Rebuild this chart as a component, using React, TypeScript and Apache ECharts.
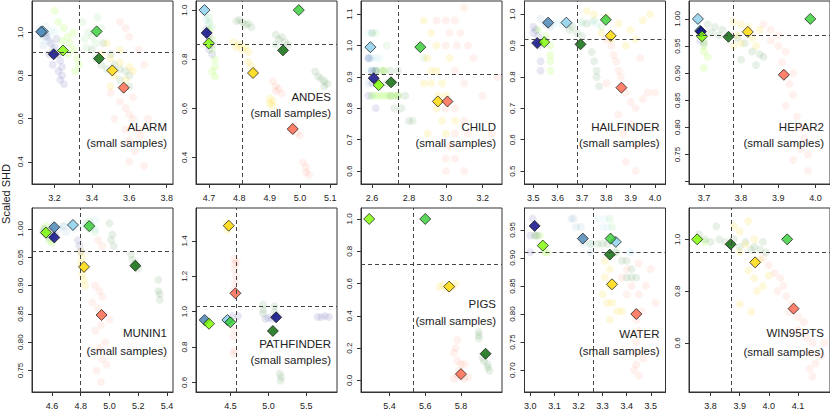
import React, { useEffect, useRef } from 'react';
import * as echarts from 'echarts';

const PANELS = ['ALARM', 'ANDES', 'CHILD', 'HAILFINDER', 'HEPAR2', 'MUNIN1', 'PATHFINDER', 'PIGS', 'WATER', 'WIN95PTS'];
const SUBTITLE = '(small samples)';
const Y_TITLE = 'Scaled SHD';

const METHOD_ORDER = ['skyblue', 'steelblue', 'navy', 'lawngreen', 'limegreen', 'darkgreen', 'gold', 'tomato'];
const METHOD_COLORS: Record<string, string> = {
  skyblue: '#87CEEB', steelblue: '#4682B4', navy: '#000080', lawngreen: '#7CFC00',
  limegreen: '#32CD32', darkgreen: '#006400', gold: '#FFD700', tomato: '#FF6347',
};

const X_RANGE = [[3.079, 3.834], [4.657, 5.122], [2.540, 3.305], [3.464, 4.043], [3.660, 4.039],
  [4.461, 5.442], [4.043, 5.907], [5.240, 6.030], [2.976, 3.561], [3.726, 4.210]];
const Y_RANGE = [[0.297, 1.146], [0.292, 1.037], [0.559, 1.142], [0.459, 1.042], [0.6957, 1.033],
  [0.712, 1.037], [0.546, 1.586], [-0.072, 1.068], [0.661, 0.989], [0.410, 1.121]];
const X_TICKS = [
  [3.2, 3.4, 3.6, 3.8], [4.7, 4.8, 4.9, 5.0, 5.1], [2.6, 2.8, 3.0, 3.2], [3.5, 3.6, 3.7, 3.8, 3.9, 4.0],
  [3.7, 3.8, 3.9, 4.0], [4.6, 4.8, 5.0, 5.2, 5.4], [4.5, 5.0, 5.5], [5.4, 5.6, 5.8],
  [3.0, 3.1, 3.2, 3.3, 3.4, 3.5], [3.8, 3.9, 4.0, 4.1]];
const Y_TICKS = [
  [0.4, 0.6, 0.8, 1.0], [0.4, 0.6, 0.8, 1.0], [0.6, 0.7, 0.8, 0.9, 1.0, 1.1], [0.5, 0.6, 0.7, 0.8, 0.9, 1.0],
  [0.70, 0.75, 0.80, 0.85, 0.90, 0.95, 1.00], [0.75, 0.80, 0.85, 0.90, 0.95, 1.00], [0.6, 0.8, 1.0, 1.2, 1.4],
  [0.0, 0.2, 0.4, 0.6, 0.8, 1.0], [0.70, 0.75, 0.80, 0.85, 0.90, 0.95], [0.6, 0.8, 1.0]];
const Y_LABELS = [
  [0.4, 0.6, 0.8, 1.0], [0.4, 0.6, 0.8, 1.0], [0.6, 0.7, 0.8, 0.9, 1.0, 1.1], [0.5, 0.6, 0.7, 0.8, 0.9, 1.0],
  [0.75, 0.80, 0.85, 0.90, 0.95, 1.00], [0.75, 0.80, 0.85, 0.90, 0.95, 1.00], [0.6, 0.8, 1.0, 1.2, 1.4],
  [0.0, 0.2, 0.4, 0.6, 0.8, 1.0], [0.70, 0.75, 0.80, 0.85, 0.90, 0.95], [0.6, 0.8, 1.0]];
const Y_DECIMALS = [1, 1, 1, 1, 2, 2, 1, 1, 2, 1];
const V_LINE = [3.331, 4.812, 2.744, 3.680, 3.780, 4.80, 4.568, 5.527, 3.261, 3.873];
const H_LINE = [0.910, 0.858, 0.909, 0.918, 0.973, 0.965, 1.032, 0.724, 0.905, 0.954];

type Mean = [string, number, number];
const alarmMeans: Mean[] = [['steelblue', 3.128, 1.003], ['skyblue', 3.136, 1.005], ['navy', 3.195, 0.899], ['lawngreen', 3.245, 0.916], ['limegreen', 3.425, 1.005], ['darkgreen', 3.438, 0.879], ['gold', 3.509, 0.824], ['tomato', 3.570, 0.744]];
const andesMeans: Mean[] = [['skyblue', 4.685, 1.0], ['navy', 4.692, 0.907], ['lawngreen', 4.699, 0.864], ['limegreen', 4.996, 1.0], ['darkgreen', 4.944, 0.836], ['gold', 4.845, 0.744], ['tomato', 4.976, 0.516]];
const childMeans: Mean[] = [['skyblue', 2.591, 0.995], ['navy', 2.609, 0.896], ['lawngreen', 2.636, 0.874], ['limegreen', 2.862, 0.995], ['darkgreen', 2.703, 0.883], ['gold', 2.957, 0.822], ['tomato', 3.009, 0.822]];
const hailfinderMeans: Mean[] = [['steelblue', 3.561, 0.973], ['skyblue', 3.636, 0.973], ['navy', 3.516, 0.908], ['lawngreen', 3.545, 0.911], ['limegreen', 3.798, 0.982], ['darkgreen', 3.694, 0.904], ['gold', 3.818, 0.931], ['tomato', 3.862, 0.766]];
const hepar2Means: Mean[] = [['skyblue', 3.684, 1.0], ['steelblue', 3.690, 0.978], ['navy', 3.692, 0.9765], ['lawngreen', 3.695, 0.968], ['limegreen', 3.986, 1.0], ['darkgreen', 3.766, 0.967], ['gold', 3.818, 0.976], ['tomato', 3.915, 0.897]];
const munin1Means: Mean[] = [['skyblue', 4.746, 1.007], ['steelblue', 4.616, 1.003], ['navy', 4.616, 0.985], ['lawngreen', 4.558, 0.9935], ['limegreen', 4.859, 1.005], ['darkgreen', 5.180, 0.935], ['gold', 4.823, 0.933], ['tomato', 4.945, 0.848]];
const pathfinderMeans: Mean[] = [['skyblue', 4.458, 0.953], ['steelblue', 4.158, 0.953], ['navy', 5.103, 0.968], ['lawngreen', 4.215, 0.932], ['limegreen', 4.497, 0.940], ['darkgreen', 5.059, 0.891], ['gold', 4.476, 1.486], ['tomato', 4.564, 1.104]];
const pigsMeans: Mean[] = [['lawngreen', 5.286, 1.0], ['limegreen', 5.600, 1.0], ['darkgreen', 5.938, 0.165], ['gold', 5.734, 0.581], ['tomato', 5.800, 0.039]];
const waterMeans: Mean[] = [['skyblue', 3.355, 0.9286], ['steelblue', 3.218, 0.9345], ['navy', 3.018, 0.957], ['lawngreen', 3.052, 0.922], ['limegreen', 3.333, 0.9345], ['darkgreen', 3.330, 0.906], ['gold', 3.339, 0.853], ['tomato', 3.440, 0.800]];
const win95ptsMeans: Mean[] = [['lawngreen', 3.754, 1.0], ['limegreen', 4.063, 1.0], ['darkgreen', 3.869, 0.981], ['gold', 3.953, 0.911], ['tomato', 4.085, 0.732]];

type Cloud = Record<string, number[][]>;
const alarmCloud: Cloud = {
  skyblue: [[3.12, 1.02], [3.14, 1.0], [3.15, 1.03], [3.16, 0.99], [3.13, 0.97], [3.18, 1.01], [3.2, 1.0]],
  steelblue: [[3.13, 1.01], [3.15, 0.98], [3.17, 0.96], [3.14, 0.94], [3.19, 0.92]],
  navy: [[3.15, 1.0], [3.16, 0.98], [3.18, 0.95], [3.2, 0.93], [3.22, 0.9], [3.23, 0.87], [3.24, 0.84], [3.22, 0.82], [3.24, 0.8], [3.23, 0.78], [3.25, 0.76], [3.19, 0.85], [3.17, 0.9], [3.21, 0.97]],
  lawngreen: [[3.2, 1.1], [3.22, 1.05], [3.25, 1.02], [3.27, 0.98], [3.28, 0.95], [3.3, 0.92], [3.32, 0.88], [3.33, 0.85], [3.31, 0.82], [3.27, 0.9], [3.24, 0.96], [3.3, 1.0]],
  limegreen: [[3.35, 1.05], [3.38, 1.0], [3.4, 0.98], [3.42, 0.95], [3.45, 1.02], [3.37, 0.93], [3.43, 1.07], [3.36, 0.97]],
  darkgreen: [[3.4, 0.92], [3.42, 0.88], [3.45, 0.85], [3.48, 0.83], [3.52, 0.85], [3.55, 0.83], [3.58, 0.82], [3.6, 0.8], [3.55, 0.78], [3.6, 0.75], [3.5, 0.9], [3.46, 0.95]],
  gold: [[3.45, 0.9], [3.5, 0.88], [3.55, 0.86], [3.52, 0.8], [3.58, 0.78], [3.6, 0.84], [3.48, 0.95], [3.62, 0.82], [3.55, 0.92], [3.5, 0.75]],
  tomato: [[3.5, 0.72], [3.55, 0.68], [3.58, 0.65], [3.6, 0.62], [3.62, 0.6], [3.65, 0.55], [3.58, 0.55], [3.6, 0.5], [3.63, 0.45], [3.55, 1.05], [3.58, 1.02], [3.6, 0.98], [3.65, 0.92], [3.68, 0.85], [3.62, 0.7], [3.7, 0.6], [3.68, 0.38], [3.6, 0.4], [3.66, 0.52], [3.52, 0.6]],
};
const andesCloud: Cloud = {
  skyblue: [[4.69, 0.98], [4.69, 0.96], [4.7, 0.94]],
  navy: [[4.69, 0.92], [4.7, 0.9], [4.7, 0.88], [4.71, 0.86], [4.7, 0.84], [4.71, 0.82]],
  lawngreen: [[4.7, 0.92], [4.71, 0.88], [4.71, 0.84], [4.72, 0.8], [4.72, 0.77], [4.71, 0.75], [4.72, 0.73]],
  limegreen: [[4.7, 0.97], [4.7, 0.95], [4.71, 0.93]],
  darkgreen: [[4.79, 0.955], [4.81, 0.95], [4.83, 0.945], [4.82, 0.94], [4.8, 0.96], [4.84, 0.93], [4.92, 0.9], [4.93, 0.88], [4.95, 0.87], [4.94, 0.89], [4.96, 0.86], [4.92, 0.86], [5.05, 0.75], [5.06, 0.73], [5.07, 0.72], [5.08, 0.71], [5.09, 0.7], [5.08, 0.69]],
  gold: [[4.78, 0.87], [4.8, 0.86], [4.82, 0.85], [4.81, 0.84], [4.83, 0.83], [4.79, 0.85], [4.83, 0.79], [4.84, 0.77], [4.85, 0.75], [4.9, 0.64], [4.9, 0.62], [4.91, 0.61], [4.91, 0.63]],
  tomato: [[4.91, 0.71], [4.92, 0.69], [4.93, 0.68], [4.92, 0.67], [4.94, 0.66], [4.98, 0.53], [4.99, 0.5], [5.0, 0.49], [4.97, 0.51], [5.01, 0.38], [5.02, 0.36], [5.02, 0.34], [5.03, 0.33]],
};
const childCloud: Cloud = {
  skyblue: [[2.58, 1.04], [2.6, 1.04], [2.58, 0.96], [2.6, 0.96], [2.62, 0.96], [2.64, 0.96], [2.58, 0.92], [2.6, 0.92]],
  steelblue: [[2.58, 0.96], [2.59, 0.96], [2.6, 0.92], [2.58, 0.88], [2.6, 0.84]],
  navy: [[2.58, 0.96], [2.6, 0.92], [2.62, 0.92], [2.6, 0.88], [2.62, 0.8], [2.58, 0.84]],
  lawngreen: [[2.6, 0.84], [2.62, 0.84], [2.64, 0.84], [2.66, 0.84], [2.68, 0.84], [2.7, 0.84], [2.72, 0.84], [2.74, 0.84], [2.63, 0.88], [2.65, 0.92], [2.67, 0.92]],
  limegreen: [[2.62, 1.04], [2.68, 1.0], [2.88, 0.96], [2.85, 1.0], [2.62, 0.92]],
  darkgreen: [[2.6, 1.04], [2.62, 0.92], [2.66, 0.92], [2.7, 0.92], [2.74, 0.92], [2.68, 0.88], [2.72, 0.88], [2.7, 0.84], [2.74, 0.84], [2.78, 0.84], [2.76, 0.8], [2.8, 0.76], [2.82, 0.76], [2.72, 0.8]],
  gold: [[2.88, 1.08], [2.92, 1.04], [2.95, 1.0], [2.9, 0.96], [2.92, 0.92], [2.95, 0.92], [2.98, 0.88], [2.92, 0.88], [2.96, 0.84], [3.0, 0.84], [2.95, 0.8], [2.98, 0.76], [3.0, 0.72], [3.05, 0.76], [2.9, 0.72], [3.02, 0.96], [2.88, 0.88]],
  tomato: [[2.95, 1.08], [3.0, 1.08], [3.05, 1.08], [3.1, 1.12], [3.02, 1.04], [3.08, 1.04], [3.0, 1.0], [3.06, 1.0], [3.12, 1.0], [3.15, 0.96], [3.05, 0.92], [3.1, 0.88], [3.0, 0.8], [3.05, 0.8], [3.1, 0.76], [3.05, 0.72], [3.12, 0.72], [3.02, 0.68], [3.0, 0.64], [3.05, 0.64], [3.0, 0.6], [3.1, 0.6], [3.25, 0.72], [3.2, 0.84], [3.28, 0.9]],
};
const hailfinderCloud: Cloud = {
  skyblue: [[3.55, 0.97], [3.58, 0.97], [3.6, 0.97], [3.62, 0.975], [3.65, 0.97], [3.7, 0.97], [3.74, 0.975], [3.76, 0.97]],
  steelblue: [[3.53, 0.985], [3.55, 0.97], [3.57, 0.96]],
  navy: [[3.5, 0.96], [3.51, 0.95], [3.5, 0.94], [3.52, 0.93], [3.53, 0.85], [3.53, 0.82], [3.52, 0.9]],
  lawngreen: [[3.52, 0.95], [3.55, 0.93], [3.57, 0.9], [3.57, 0.87], [3.57, 0.85], [3.57, 0.82]],
  limegreen: [[3.7, 0.975], [3.75, 0.98], [3.78, 0.96]],
  darkgreen: [[3.65, 0.95], [3.68, 0.94], [3.7, 0.93], [3.74, 0.88], [3.75, 0.85], [3.76, 0.82], [3.76, 0.8], [3.77, 0.77], [3.72, 0.97], [3.66, 0.96]],
  gold: [[3.72, 1.01], [3.75, 1.0], [3.8, 0.99], [3.85, 0.97], [3.9, 0.95], [3.95, 0.98], [3.88, 0.9], [3.82, 0.92], [3.78, 0.94], [3.98, 1.0], [3.92, 0.92]],
  tomato: [[3.8, 0.92], [3.82, 0.9], [3.83, 0.87], [3.84, 0.85], [3.85, 0.82], [3.86, 0.8], [3.88, 0.75], [3.9, 0.72], [3.92, 0.7], [3.95, 0.73], [3.97, 0.75], [4.0, 0.75], [3.85, 0.68], [3.87, 0.62], [3.9, 0.65], [3.93, 0.58], [3.88, 0.53], [3.92, 0.5], [3.94, 0.86], [3.8, 0.78]],
};
const hepar2Cloud: Cloud = {
  skyblue: [[3.68, 0.99], [3.69, 0.98]],
  navy: [[3.7, 0.97], [3.69, 0.96], [3.7, 0.955]],
  lawngreen: [[3.69, 0.97], [3.7, 0.96], [3.7, 0.95], [3.7, 0.94], [3.71, 0.93], [3.7, 0.91]],
  darkgreen: [[3.71, 0.99], [3.73, 0.985], [3.75, 0.98], [3.77, 0.97], [3.72, 0.975], [3.74, 0.97], [3.79, 0.965], [3.81, 0.955], [3.83, 0.94], [3.85, 0.935], [3.86, 0.93], [3.8, 0.925], [3.84, 0.915]],
  gold: [[3.78, 0.995], [3.8, 0.99], [3.82, 0.985], [3.85, 0.98], [3.79, 0.97], [3.83, 0.965], [3.8, 0.955], [3.84, 0.95], [3.78, 0.95]],
  tomato: [[3.86, 0.99], [3.88, 0.98], [3.9, 0.97], [3.88, 0.96], [3.9, 0.95], [3.92, 0.94], [3.91, 0.92], [3.93, 0.88], [3.94, 0.86], [3.92, 0.84], [3.95, 0.82], [3.96, 0.8], [3.97, 0.78], [3.96, 0.76], [3.98, 0.75], [3.94, 0.74], [3.98, 0.72], [3.94, 0.9]],
};
const munin1Cloud: Cloud = {
  skyblue: [[4.68, 1.005], [4.72, 1.01], [4.75, 1.0], [4.82, 1.005], [4.87, 1.01], [4.9, 1.0], [4.9, 1.015]],
  steelblue: [[4.6, 1.005], [4.65, 1.0], [4.68, 1.005], [4.7, 0.995]],
  navy: [[4.54, 0.995], [4.56, 0.99], [4.58, 0.985], [4.6, 0.995], [4.62, 0.99], [4.55, 1.0], [4.78, 0.98], [4.79, 0.97], [4.8, 0.96]],
  lawngreen: [[4.54, 1.0], [4.56, 1.005], [4.58, 0.98], [4.6, 0.975], [4.57, 0.995]],
  limegreen: [[4.84, 1.01], [4.86, 1.0], [4.88, 1.005], [4.9, 0.995], [4.86, 1.015]],
  darkgreen: [[5.0, 1.01], [5.02, 0.99], [5.01, 0.98], [5.03, 0.97], [5.15, 0.955], [5.16, 0.945], [5.18, 0.94], [5.2, 0.93], [5.34, 0.91], [5.34, 0.89], [5.35, 0.885], [5.35, 0.875]],
  gold: [[4.8, 0.96], [4.81, 0.95], [4.82, 0.93], [4.81, 0.92], [4.82, 0.91], [4.83, 0.9], [4.8, 0.94]],
  tomato: [[4.92, 0.98], [4.95, 0.97], [4.9, 0.9], [4.93, 0.89], [4.95, 0.88], [4.92, 0.86], [4.96, 0.85], [4.94, 0.83], [4.9, 0.82], [4.97, 0.8], [4.93, 0.79], [4.95, 0.77], [4.91, 0.75], [4.98, 0.76], [4.94, 0.73], [4.88, 0.87], [5.0, 0.84]],
};
const pathfinderCloud: Cloud = {
  skyblue: [[4.44, 0.96], [4.47, 0.95]],
  steelblue: [[4.14, 0.96], [4.16, 0.95]],
  navy: [[4.52, 0.975], [4.6, 0.975], [4.96, 0.96], [5.0, 0.965], [5.05, 0.96], [5.1, 0.97], [5.65, 0.97], [5.7, 0.97], [5.75, 0.975], [5.8, 0.97]],
  lawngreen: [[4.18, 0.93], [4.2, 0.94]],
  limegreen: [[4.48, 0.94], [4.5, 0.95]],
  darkgreen: [[4.93, 1.04], [4.93, 1.01], [4.93, 0.99], [5.08, 1.03], [5.08, 1.0], [5.1, 0.98], [5.15, 0.65], [5.17, 0.63], [5.16, 0.61]],
  gold: [[4.45, 1.5], [4.47, 1.48], [4.46, 1.46]],
  tomato: [[4.55, 1.3], [4.56, 1.27], [4.58, 1.28], [4.55, 1.24], [4.57, 1.2], [4.56, 1.16], [4.54, 1.12], [4.55, 0.9], [4.54, 0.86], [4.55, 0.78], [4.54, 0.76]],
};
const pigsCloud: Cloud = {
  darkgreen: [[5.9, 0.3], [5.9, 0.28], [5.9, 0.26], [5.92, 0.14], [5.93, 0.12], [5.95, 0.1], [5.95, 0.08], [5.96, 0.06]],
  gold: [[5.68, 0.58], [5.7, 0.59], [5.72, 0.57], [5.75, 0.58], [5.77, 0.6]],
  tomato: [[5.78, 0.25], [5.77, 0.2], [5.76, 0.17], [5.78, 0.12], [5.8, 0.1], [5.82, 0.1], [5.79, 0.06], [5.78, 0.03], [5.8, 0.02], [5.82, 0.01], [5.84, 0.02], [5.76, 0.01]],
};
const waterCloud: Cloud = {
  skyblue: [[3.28, 0.97], [3.31, 0.97], [3.3, 0.955], [3.32, 0.955], [3.41, 0.91], [3.42, 0.91], [3.25, 0.925]],
  steelblue: [[3.17, 0.97], [3.18, 0.97], [3.19, 0.955], [3.21, 0.955], [3.25, 0.91], [3.22, 0.925]],
  navy: [[3.01, 0.97], [3.0, 0.94], [3.02, 0.94], [3.03, 0.94], [3.0, 0.91]],
  lawngreen: [[3.02, 0.94], [3.04, 0.94], [3.06, 0.91], [3.07, 0.91]],
  limegreen: [[3.33, 0.97], [3.34, 0.955], [3.36, 0.91]],
  darkgreen: [[3.25, 0.925], [3.28, 0.925], [3.3, 0.925], [3.32, 0.925], [3.35, 0.91], [3.38, 0.895], [3.4, 0.895], [3.42, 0.88], [3.4, 0.865], [3.42, 0.865], [3.44, 0.865]],
  gold: [[3.31, 0.895], [3.33, 0.88], [3.31, 0.865], [3.33, 0.85], [3.3, 0.835], [3.32, 0.82], [3.34, 0.82], [3.36, 0.805], [3.38, 0.805], [3.33, 0.79]],
  tomato: [[3.4, 0.88], [3.45, 0.89], [3.5, 0.88], [3.38, 0.865], [3.42, 0.85], [3.48, 0.85], [3.4, 0.835], [3.45, 0.835], [3.52, 0.82], [3.46, 0.805], [3.44, 0.79], [3.45, 0.77], [3.44, 0.75], [3.45, 0.73], [3.44, 0.71], [3.45, 0.69], [3.47, 0.72], [3.43, 0.7]],
};
const win95ptsCloud: Cloud = {
  lawngreen: [[3.76, 1.0], [3.78, 0.99]],
  darkgreen: [[3.76, 1.02], [3.78, 1.0], [3.8, 0.99], [3.82, 1.05], [3.83, 1.0], [3.85, 0.99], [3.87, 0.98], [3.9, 0.97], [3.92, 0.99], [3.95, 0.97], [3.97, 0.96], [3.99, 0.95], [3.94, 0.96], [3.98, 0.99], [3.88, 1.0]],
  gold: [[3.88, 1.05], [3.9, 1.03], [3.93, 1.07], [3.95, 1.0], [3.92, 0.98], [3.9, 0.95], [3.97, 0.92], [3.93, 0.88], [3.95, 0.85], [3.98, 0.82], [3.9, 0.75], [3.94, 0.72], [4.0, 0.86], [3.96, 0.8]],
  tomato: [[3.98, 0.93], [4.0, 0.9], [4.02, 0.87], [4.04, 0.85], [4.05, 0.82], [4.03, 0.8], [4.06, 0.78], [4.08, 0.75], [4.1, 0.7], [4.12, 0.68], [4.1, 0.65], [4.13, 0.62], [4.15, 0.6], [4.14, 0.56], [4.16, 0.52], [4.14, 0.5], [4.15, 0.47], [4.18, 0.55], [4.19, 0.6], [4.07, 0.72]],
};

const MEANS = [alarmMeans, andesMeans, childMeans, hailfinderMeans, hepar2Means, munin1Means, pathfinderMeans, pigsMeans, waterMeans, win95ptsMeans];
const CLOUDS = [alarmCloud, andesCloud, childCloud, hailfinderCloud, hepar2Cloud, munin1Cloud, pathfinderCloud, pigsCloud, waterCloud, win95ptsCloud];

// layout (pixels)
const COL_LEFT = [32, 196, 361, 524.5, 689];
const PANEL_W = 141;
const ROW_TOP = [1, 208];
const ROW_H = [183, 184];
const LABEL_Y = [[126.7, 143.3], [96.7, 113.3], [126.7, 143.3], [126.7, 143.3], [126.7, 143.3],
  [333.3, 351], [344.3, 360.3], [304, 321], [334, 350.7], [333.3, 351.7]];
const FONT = '"Liberation Sans", Arial, Helvetica, sans-serif';

function buildOption() {
  const grid: any[] = [];
  const xAxis: any[] = [];
  const yAxis: any[] = [];
  const series: any[] = [];
  const graphic: any[] = [];

  PANELS.forEach((name, i) => {
    const row = i < 5 ? 0 : 1;
    const col = i % 5;
    const left = COL_LEFT[col];
    const top = ROW_TOP[row];
    grid.push({ left, top, width: PANEL_W, height: ROW_H[row], show: true, borderColor: '#333', borderWidth: 1, backgroundColor: 'transparent', containLabel: false });
    xAxis.push({
      type: 'value', gridIndex: i, min: X_RANGE[i][0], max: X_RANGE[i][1],
      axisLine: { show: true, onZero: false, lineStyle: { color: '#333', width: 1 } },
      splitLine: { show: false },
      axisTick: { show: true, inside: false, length: 4, customValues: X_TICKS[i], lineStyle: { color: '#333' } },
      axisLabel: { customValues: X_TICKS[i], formatter: (v: number) => v.toFixed(1), fontSize: 9, color: '#222', margin: 9, fontFamily: FONT },
    });
    const yd = Y_DECIMALS[i];
    yAxis.push({
      type: 'value', gridIndex: i, min: Y_RANGE[i][0], max: Y_RANGE[i][1],
      axisLine: { show: true, onZero: false, lineStyle: { color: '#333', width: 1 } },
      splitLine: { show: false },
      axisTick: { show: true, inside: false, length: 4, customValues: Y_TICKS[i], lineStyle: { color: '#333' } },
      axisLabel: { customValues: Y_LABELS[i], rotate: 90, formatter: (v: number) => v.toFixed(yd), fontSize: 8, color: '#222', margin: 8, fontFamily: FONT },
    });

    const cloud = CLOUDS[i];
    METHOD_ORDER.forEach((m) => {
      const pts = cloud[m];
      if (!pts) return;
      series.push({
        type: 'scatter', xAxisIndex: i, yAxisIndex: i, name: `${name}-${m}-runs`, silent: true, z: 1,
        symbol: 'circle', symbolSize: 8, data: pts,
        itemStyle: { color: METHOD_COLORS[m], opacity: m === 'gold' || m === 'lawngreen' ? 0.14 : 0.09 },
      });
    });

    series.push({
      type: 'scatter', xAxisIndex: i, yAxisIndex: i, name: `${name}-ref`, data: [], silent: true, z: 2,
      markLine: {
        silent: true, symbol: ['none', 'none'], label: { show: false }, animation: false,
        lineStyle: { type: [4, 3], color: '#444', width: 1 },
        data: [{ xAxis: V_LINE[i] }, { yAxis: H_LINE[i] }],
      },
    });

    const means = MEANS[i].slice().sort((a, b) => METHOD_ORDER.indexOf(a[0]) - METHOD_ORDER.indexOf(b[0]));
    series.push({
      type: 'scatter', xAxisIndex: i, yAxisIndex: i, name: `${name}-mean`, z: 3, silent: true,
      symbol: 'diamond', symbolSize: 11,
      data: means.map(([m, x, y]) => ({ value: [x, y], itemStyle: { color: METHOD_COLORS[m], borderColor: '#111', borderWidth: 0.9 } })),
    });

    const rx = left + PANEL_W - 6;
    graphic.push({
      type: 'text', x: rx, y: LABEL_Y[i][0], silent: true,
      style: { text: name, textAlign: 'right', textVerticalAlign: 'middle', align: 'right', verticalAlign: 'middle', fontSize: 11.5, fontFamily: FONT, fill: '#222' },
    });
    graphic.push({
      type: 'text', x: rx, y: LABEL_Y[i][1], silent: true,
      style: { text: SUBTITLE, textAlign: 'right', textVerticalAlign: 'middle', align: 'right', verticalAlign: 'middle', fontSize: 11.5, fontFamily: FONT, fill: '#222' },
    });
  });

  graphic.push({
    type: 'text', x: 6, y: 194, rotation: Math.PI / 2, silent: true,
    style: { text: Y_TITLE, textAlign: 'center', textVerticalAlign: 'middle', align: 'center', verticalAlign: 'middle', fontSize: 11, fontFamily: FONT, fill: '#222' },
  });

  return { animation: false, backgroundColor: '#ffffff', grid, xAxis, yAxis, series, graphic };
}

export default function App() {
  const ref = useRef<HTMLDivElement>(null);
  useEffect(() => {
    if (!ref.current) return;
    const chart = echarts.init(ref.current, undefined, { renderer: 'svg' });
    chart.setOption(buildOption() as any);
    return () => chart.dispose();
  }, []);
  return <div ref={ref} style={{ position: 'fixed', left: 0, top: 0, width: 830, height: 415 }} />;
}
